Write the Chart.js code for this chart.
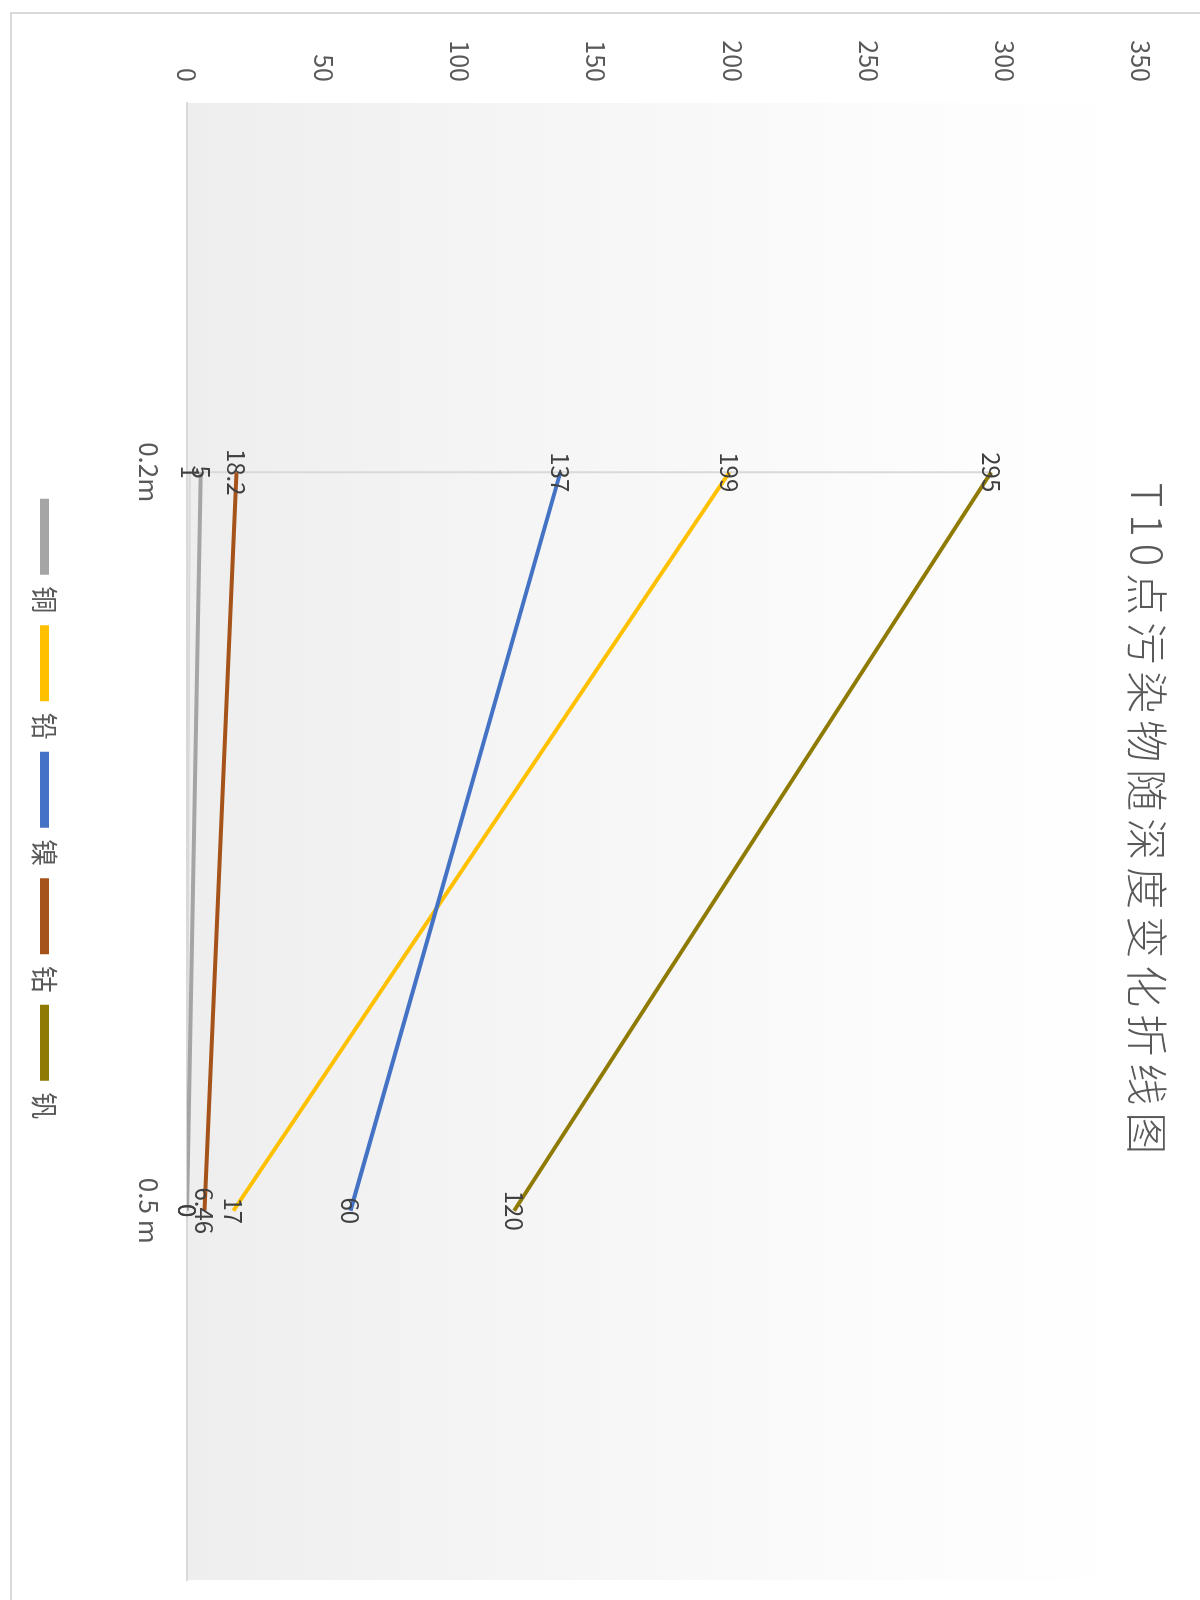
<!DOCTYPE html>
<html lang="zh-CN">
<head>
<meta charset="utf-8">
<title>T10点污染物随深度变化折线图</title>
<script src="https://cdn.jsdelivr.net/npm/chart.js@4.4.1/dist/chart.umd.min.js"></script>
<style>
  html, body { margin: 0; padding: 0; background: #fff; overflow: hidden; }
  body { width: 1200px; height: 1600px; position: relative; }
  /* the chart is laid out landscape and turned a quarter turn clockwise */
  #turn {
    position: absolute; left: 0; top: 0;
    width: 1600px; height: 1200px;
    transform-origin: 0 0;
    transform: translateX(1200px) rotate(90deg);
  }
  #frame {
    position: absolute; left: 12px; top: -10px; right: -10px; bottom: 10px;
    border: 2px solid #d9d9d9;
  }
  #box { position: absolute; left: 0; top: 0; width: 1600px; height: 1200px; }
</style>
</head>
<body>
<div id="turn">
  <div id="frame"></div>
  <div id="box"><canvas id="depthChart"></canvas></div>
</div>
<script>
// Depths sampled at point T10 and the measured value of each element
const depths = ['0.2m', '0.5 m'];
const cuValues = [5, 0];        // 铜
const pbValues = [199, 17];     // 铅
const niValues = [137, 60];     // 镍
const coValues = [18.2, 6.46];  // 钴
const vValues = [295, 120];     // 钒
const extraValues = [1, 0];     // unnamed row, sits on the axis, not in legend

const valueMin = 0;
const valueMax = 350;
const valueStep = 50;

const chartTitle = 'T10点污染物随深度变化折线图';
const FONT = '"Noto Sans CJK SC", "Noto Sans", sans-serif';

function lineSet(name, values, color, width) {
  return {
    label: name,
    data: values,
    borderColor: color,
    backgroundColor: color,
    borderWidth: width,
    pointRadius: 0,
    pointHoverRadius: 0,
    tension: 0,
    fill: false
  };
}

const datasets = [
  lineSet('', extraValues, '#d9d9d9', 2),
  lineSet('铜', cuValues, '#a5a5a5', 4),
  lineSet('铅', pbValues, '#ffc000', 4),
  lineSet('镍', niValues, '#4472c4', 4),
  lineSet('钴', coValues, '#a5531a', 4),
  lineSet('钒', vValues, '#8f7a04', 4)
];
// later rows are painted over earlier ones
datasets.forEach((d, i) => { d.order = -i; });

// light grey wash behind the plot, fading out towards the top of the value range
const plotShade = {
  id: 'plotShade',
  beforeDraw(chart) {
    const { ctx, chartArea: a } = chart;
    const g = ctx.createLinearGradient(0, a.bottom, 0, a.top);
    g.addColorStop(0, '#eeeeee');
    g.addColorStop(0.35, '#f5f5f5');
    g.addColorStop(0.75, '#fcfcfc');
    g.addColorStop(1, '#ffffff');
    ctx.save();
    ctx.fillStyle = g;
    ctx.fillRect(a.left, a.top, a.right - a.left, a.bottom - a.top);
    ctx.restore();
  }
};

// thin line at the first depth, from zero up to the highest reading there
const firstDepthLine = {
  id: 'firstDepthLine',
  beforeDatasetsDraw(chart) {
    const { ctx, scales } = chart;
    const firsts = chart.data.datasets.map(d => d.data[0]);
    const x = scales.x.getPixelForValue(0);
    ctx.save();
    ctx.strokeStyle = '#d9d9d9';
    ctx.lineWidth = 2;
    ctx.beginPath();
    ctx.moveTo(x, scales.y.getPixelForValue(0));
    ctx.lineTo(x, scales.y.getPixelForValue(Math.max(...firsts)));
    ctx.stroke();
    ctx.restore();
  }
};

// value written on top of every point
const pointValues = {
  id: 'pointValues',
  afterDatasetsDraw(chart) {
    const { ctx } = chart;
    ctx.save();
    ctx.font = '24px ' + FONT;
    ctx.fillStyle = '#404040';
    ctx.textAlign = 'center';
    ctx.textBaseline = 'middle';
    chart.data.datasets.forEach((ds, i) => {
      const meta = chart.getDatasetMeta(i);
      meta.data.forEach((pt, j) => {
        ctx.fillText(String(ds.data[j]), pt.x, pt.y);
      });
    });
    ctx.restore();
  }
};

// title sits over the top edge of the plot
const topTitle = {
  id: 'topTitle',
  afterDraw(chart) {
    const { ctx } = chart;
    ctx.save();
    ctx.font = '300 42px ' + FONT;
    ctx.letterSpacing = '7px';
    ctx.fillStyle = '#595959';
    ctx.textAlign = 'center';
    ctx.textBaseline = 'middle';
    ctx.fillText(chartTitle, 822, 53);
    ctx.restore();
  }
};

new Chart(document.getElementById('depthChart'), {
  type: 'line',
  data: { labels: depths, datasets: datasets },
  plugins: [plotShade, firstDepthLine, pointValues, topTitle],
  options: {
    responsive: true,
    maintainAspectRatio: false,
    animation: false,
    layout: { padding: { left: 40, right: 20, top: 59, bottom: 21 } },
    plugins: {
      title: { display: false },
      tooltip: { enabled: false },
      legend: {
        position: 'bottom',
        labels: {
          color: '#595959',
          font: { family: FONT, size: 27 },
          boxWidth: 72,
          boxHeight: 5,
          padding: 14,
          filter: item => item.text !== '',
          sort: (a, b) => a.datasetIndex - b.datasetIndex
        }
      }
    },
    scales: {
      x: {
        type: 'category',
        offset: true,
        grid: { display: false, drawTicks: false },
        border: { display: true, color: '#d9d9d9', width: 2 },
        ticks: {
          color: '#595959',
          font: { family: FONT, size: 26 },
          padding: 23,
          maxRotation: 0
        },
        afterFit: s => { s.height = 115; }
      },
      y: {
        min: valueMin,
        max: valueMax,
        grid: { display: false, drawTicks: false },
        border: { display: false },
        ticks: {
          stepSize: valueStep,
          color: '#595959',
          font: { family: FONT, size: 25 },
          padding: 21
        },
        afterFit: s => { s.width = 63; }
      }
    }
  }
});
</script>
</body>
</html>
